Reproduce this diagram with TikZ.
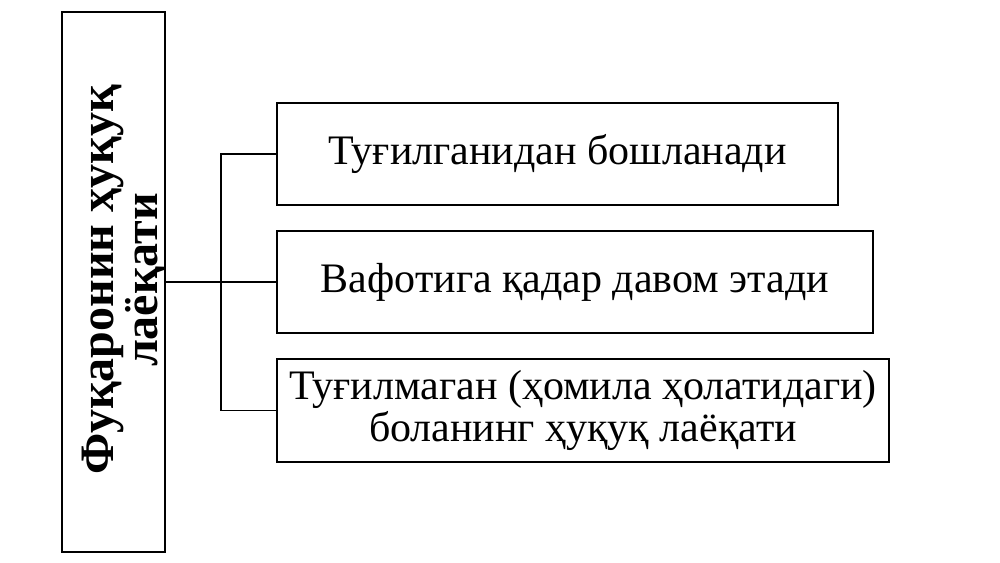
\documentclass[tikz,border=0pt]{standalone}
\usepackage{fontspec}
\setmainfont{Liberation Serif}
\usepackage{tikz}
\tikzstyle{item}=[rectangle, draw, line width=0.6pt, minimum height=51pt, align=center, inner sep=0pt, font=\fontsize{21}{21}\selectfont]
\tikzstyle{head}=[rectangle, draw, line width=0.6pt, minimum width=51.5pt, minimum height=270pt, inner sep=0pt]
\tikzstyle{title}=[align=center, inner sep=0pt, rotate=90, font=\fontsize{24}{21}\selectfont\bfseries]

\begin{document}
\begin{tikzpicture}[x=0.5pt, y=-0.5pt]
                    \useasboundingbox (0, 0) rectangle (1000, 562);
                    \node[head] (main) at (113.5, 282) {};
                    \node[title] (maintext) at (124, 280) {Фуқаронин ҳуқуқ\\лаёқати};
                    \node[item, minimum width=280.5pt] (born) at (557.5, 154) {Туғилганидан бошланади};
                    \node[item, minimum width=298pt] (death) at (575, 282) {Вафотига қадар давом этади};
                    \node[item, minimum width=306pt, minimum height=51.5pt] (unborn) at (583, 410.5) {Туғилмаган (ҳомила ҳолатидаги)\\боланинг ҳуқуқ лаёқати};
                    \coordinate (fork) at (221, 282);
                    \draw[line width=0.6pt]
                        (main.east) -- (death.west)
                        (born.west) -- (born.west -| fork) -- (unborn.west -| fork) -- (unborn.west)
                    ;
                \end{tikzpicture}
\end{document}
